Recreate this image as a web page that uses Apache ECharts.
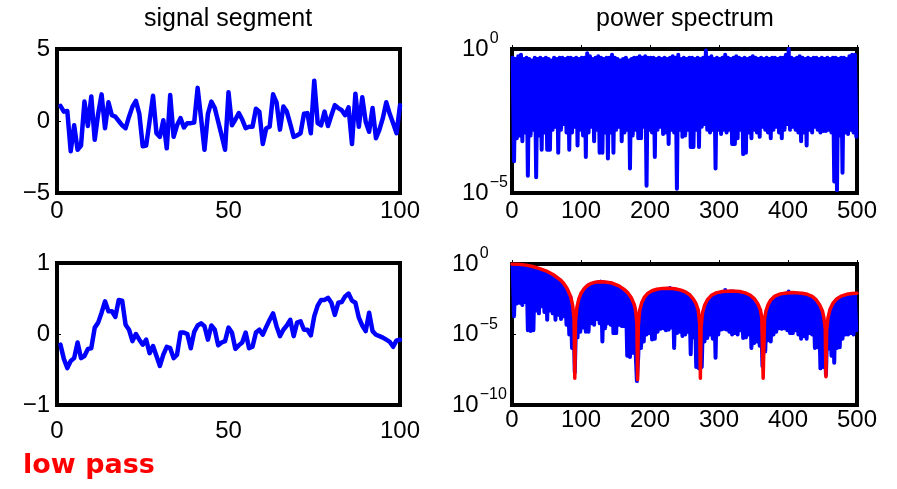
<!DOCTYPE html>
<html>
<head>
<meta charset="utf-8">
<script src="https://cdn.jsdelivr.net/npm/echarts@6/dist/echarts.min.js"></script>
<style>
  html, body { margin: 0; padding: 0; background: #fff; }
  #chart { width: 897px; height: 489px; }
</style>
</head>
<body>
<div id="chart"></div>
<script>
// Raw noise segment, samples 1..100
const signalRaw = [
  1.05, 0.65, 0.7, -2.1, -0.3, -2.0, -1.7, 1.35, -0.35, 1.7,
  -1.3, 0.5, 1.85, -0.5, 1.3, 0.4, 0.3, 0.0, -0.3, -0.5,
  0.3, 1.0, 1.4, 0.5, -1.75, -1.7, 0.0, 1.75, -0.85, -1.1,
  0.05, -1.9, 1.8, -1.1, -0.3, 0.2, -0.45, -0.15, -0.15, -0.1,
  2.3, 0.2, -2.0, 0.5, 1.35, 0.9, -0.05, -1.0, -2.0, 2.0,
  -0.3, 0.1, 0.55, 0.1, -0.5, -0.4, -0.4, 0.85, 0.65, -1.6,
  -0.5, -0.4, 1.85, 1.3, -0.6, 1.0, 0.65, -0.2, -1.1, -1.0,
  -0.85, 0.5, 0.55, -0.85, 2.8, -0.15, -0.3, 0.65, -0.35, 0.4,
  1.1, 0.9, 0.75, 0.4, 0.95, -1.6, 1.9, -0.4, 1.65, -0.05,
  -0.75, 0.9, -1.2, -0.6, 0.2, 1.3, 0.5, -0.15, -0.85, 1.1
];

// Same segment after the low-pass filter
const signalLowPass = [
  -0.15, -0.35, -0.48, -0.38, -0.34, -0.12, -0.34, -0.31, -0.21, -0.2,
  0.09, 0.16, 0.3, 0.46, 0.32, 0.32, 0.24, 0.48, 0.47, 0.13,
  0.06, -0.1, 0.0, -0.08, -0.15, -0.08, -0.27, -0.17, -0.31, -0.45,
  -0.29, -0.18, -0.2, -0.34, -0.29, 0.02, 0.02, 0.0, -0.2, 0.03,
  0.12, 0.15, 0.11, -0.08, 0.12, 0.06, -0.16, -0.12, -0.1, 0.09,
  0.02, -0.21, -0.16, -0.12, 0.02, -0.2, -0.18, 0.02, 0.06, -0.01,
  0.1, 0.2, 0.29, 0.11, -0.03, 0.06, 0.12, 0.2, -0.03, 0.16,
  0.18, 0.06, 0.06, -0.02, 0.25, 0.4, 0.48, 0.48, 0.51, 0.44,
  0.27, 0.44, 0.45, 0.53, 0.57, 0.47, 0.44, 0.23, 0.12, 0.04,
  0.3, 0.04, -0.01, -0.03, -0.05, -0.08, -0.11, -0.18, -0.09, -0.08
];

// Power spectra, stored as log10(power), one value per frequency bin
// bins run from binStart in steps of binStep
const binStart = 1;
const binStep = 2;

const spectrumRawLog = [
  -0.3,-3.9,-0.35,-3.1,-0.25,-3.0,-0.2,-3.2,-0.35,-2.9,-0.3,-4.4,-0.35,-3.0,-0.4,-2.8,-0.3,-4.45,-0.35,-3.0,
  -0.3,-3.5,-0.35,-2.9,-0.3,-3.5,-0.35,-3.5,-0.4,-2.8,-0.3,-2.7,-0.35,-3.6,-0.3,-2.8,-0.3,-2.6,-0.35,-2.9,
  -0.3,-3.5,-0.3,-2.9,-0.35,-2.7,-0.3,-3.35,-0.35,-2.8,-0.3,-3.0,-0.3,-3.75,-0.15,-2.9,-0.25,-2.7,-0.35,-3.2,
  -0.3,-2.8,-0.25,-3.6,-0.3,-3.6,-0.35,-2.9,-0.3,-3.8,-0.3,-2.9,-0.2,-3.6,-0.3,-2.8,-0.35,-2.7,-0.4,-3.2,
  -0.35,-2.9,-0.3,-2.8,-0.4,-4.15,-0.35,-3.0,-0.3,-2.8,-0.3,-3.1,-0.25,-3.1,-0.3,-2.7,-0.25,-4.75,-0.3,-2.8,
  -0.3,-2.9,-0.3,-3.75,-0.35,-2.8,-0.3,-2.7,-0.35,-2.95,-0.3,-2.9,-0.35,-3.3,-0.3,-2.8,-0.25,-2.9,-0.3,-4.85,
  -0.2,-2.8,-0.35,-3.05,-0.3,-3.0,-0.35,-2.8,-0.3,-3.4,-0.3,-3.4,-0.35,-2.8,-0.3,-3.4,-0.35,-2.7,-0.3,-2.6,
  -0.05,-2.8,-0.3,-2.9,-0.25,-2.8,-0.35,-4.15,-0.3,-2.8,-0.35,-2.95,-0.3,-2.8,-0.2,-2.9,-0.3,-2.8,-0.35,-3.3,
  -0.3,-3.3,-0.25,-3.1,-0.3,-2.8,-0.35,-3.65,-0.3,-3.6,-0.35,-2.9,-0.3,-3.1,-0.25,-2.8,-0.3,-2.9,-0.35,-3.05,
  -0.3,-2.7,-0.35,-2.8,-0.3,-2.9,-0.35,-3.1,-0.3,-2.8,-0.3,-2.7,-0.35,-2.9,-0.3,-3.1,-0.3,-2.8,-0.2,-2.6,
  0.0,-2.8,-0.3,-2.7,-0.35,-2.8,-0.3,-2.9,-0.25,-3.2,-0.3,-2.9,-0.35,-3.35,-0.3,-2.8,-0.35,-2.9,-0.3,-2.7,
  -0.3,-2.8,-0.35,-2.9,-0.3,-2.85,-0.35,-2.85,-0.3,-2.8,-0.35,-2.9,-0.3,-4.6,-0.3,-4.9,-0.35,-3.0,-0.3,-4.3,
  -0.3,-2.9,-0.35,-2.95,-0.25,-2.8,-0.2,-2.9,-0.2,-3.05
];

const spectrumLowLog = [
  -0.05,-3.7,-0.1,-2.8,-0.05,-2.75,-0.1,-2.9,-0.15,-2.7,-0.12,-4.7,-0.2,-4.75,-0.25,-4.7,-0.3,-3.3,-0.35,-3.5,
  -0.4,-3.0,-0.5,-3.4,-0.55,-3.95,-0.65,-3.3,-0.75,-3.5,-0.9,-3.95,-1.0,-3.6,-1.15,-3.9,-1.35,-3.7,-1.6,-4.3,
  -1.95,-5.0,-2.4,-5.95,-3.5,-7.7,-3.7,-5.2,-2.55,-4.8,-2.1,-4.5,-1.8,-4.8,-1.6,-4.8,-1.5,-4.2,-1.4,-4.3,
  -1.35,-3.9,-1.3,-4.2,-1.25,-5.5,-1.3,-4.55,-1.35,-4.2,-1.4,-4.3,-1.4,-4.9,-1.5,-4.9,-1.6,-4.3,-1.7,-4.4,
  -1.85,-4.4,-2.0,-6.5,-2.2,-6.6,-2.5,-6.3,-2.95,-6.0,-8.3,-6.5,-3.4,-5.95,-2.75,-5.5,-2.4,-5.0,-2.15,-4.9,
  -2.05,-5.35,-1.95,-5.3,-1.85,-4.8,-1.85,-4.6,-1.8,-4.55,-1.8,-4.7,-1.75,-4.65,-1.7,-4.5,-1.8,-5.95,-1.85,-4.9,
  -1.9,-4.8,-1.95,-5.1,-2.0,-5.0,-2.1,-4.8,-2.25,-6.4,-2.45,-5.2,-2.75,-7.3,-3.25,-7.4,-7.3,-7.3,-3.4,-5.5,
  -2.85,-5.25,-2.55,-5.0,-2.3,-5.3,-2.2,-6.65,-2.1,-5.0,-2.05,-4.65,-2.0,-4.6,-1.85,-4.65,-2.0,-4.8,-1.95,-5.0,
  -1.95,-4.9,-2.0,-5.0,-2.0,-4.7,-2.05,-5.25,-2.1,-5.2,-2.2,-5.0,-2.3,-5.95,-2.45,-5.6,-2.7,-5.5,-3.0,-5.8,
  -3.6,-7.25,-4.0,-6.2,-3.3,-5.4,-2.8,-5.5,-2.55,-5.0,-2.35,-4.8,-2.25,-4.55,-2.2,-4.6,-2.15,-4.55,-2.1,-4.7,
  -1.95,-4.9,-2.1,-4.9,-2.1,-4.7,-2.1,-5.0,-2.15,-5.3,-2.15,-5.1,-2.2,-5.3,-2.25,-4.9,-2.35,-5.0,-2.45,-5.95,
  -2.65,-5.9,-2.9,-7.4,-3.35,-7.3,-4.4,-7.85,-4.4,-6.0,-3.3,-6.5,-2.9,-7.0,-2.65,-5.95,-2.45,-5.9,-2.35,-5.3,
  -2.3,-5.0,-2.25,-5.0,-2.2,-4.9,-2.15,-5.0,-2.15,-4.7
];

// Filter response |H|^2 (log10), sampled at the listed frequencies
const responseFreq = [
  0,10,20,30,40,50,60,70,75,80, 85,88,90,91,92,94,97,100,105,110,
  115,120,127,135,145,155,162,168,173,177, 179,181,182,183,185,188,192,197,203,210,
  218,227,236,245,252,258,263,267,270,272, 273,274,276,279,283,289,296,305,318,330,
  338,345,351,356,360,362,364,366,368,371, 375,381,389,398,409,420,428,435,441,446,
  450,452,454,455,456,458,461,465,470,477, 485,493,500
];
const responseLog = [
  0,-0.02,-0.08,-0.18,-0.33,-0.5,-0.76,-1.12,-1.38,-1.75, -2.3,-2.95,-4.0,-8.1,-4.1,-3.1,-2.45,-2.08,-1.72,-1.5,
  -1.37,-1.3,-1.26,-1.27,-1.35,-1.55,-1.78,-2.05,-2.4,-2.85, -3.25,-4.2,-8.2,-4.4,-3.3,-2.75,-2.35,-2.07,-1.9,-1.79,
  -1.73,-1.72,-1.75,-1.85,-2.0,-2.2,-2.5,-2.85,-3.3,-4.2, -8.1,-4.5,-3.5,-2.95,-2.55,-2.22,-2.05,-1.95,-1.91,-1.95,
  -2.05,-2.2,-2.45,-2.8,-3.25,-3.8,-8.1,-3.9,-3.35,-2.9, -2.55,-2.28,-2.12,-2.05,-2.03,-2.07,-2.15,-2.3,-2.55,-2.9,
  -3.35,-3.8,-4.6,-8.0,-4.7,-3.8,-3.2,-2.8,-2.5,-2.28, -2.15,-2.09,-2.07
];

const titles = ['signal segment', 'power spectrum'];
const caption = 'low pass';

const BLUE = '#0000ff';
const RED = '#ff0000';
const FONT = '"Liberation Sans", Arial, Helvetica, sans-serif';

const minus = v => (v < 0 ? '\u2212' + (-v) : String(v));
const powerLabel = v => '{b|10}{s|' + minus(v) + '}';

const grids = [
  { left: 57, top: 49, width: 343, height: 144 },
  { left: 512, top: 49, width: 345, height: 144 },
  { left: 57, top: 263, width: 343, height: 142 },
  { left: 512, top: 264, width: 345, height: 141 }
].map(g => Object.assign(g, { show: true, borderColor: '#000', borderWidth: 4, backgroundColor: '#fff' }));

function xAxis(gridIndex, max, interval, margin) {
  return {
    type: 'value', gridIndex, min: 0, max, interval,
    axisLine: { show: false },
    axisTick: { show: true, inside: true, length: 4, lineStyle: { color: '#000', width: 1 } },
    splitLine: { show: false },
    axisLabel: { color: '#000', fontSize: 24, fontFamily: FONT, margin, formatter: minus }
  };
}
function yLinear(gridIndex, min, max, interval) {
  return {
    type: 'value', gridIndex, min, max, interval,
    axisLine: { show: false },
    axisTick: { show: true, inside: true, length: 4, lineStyle: { color: '#000', width: 1 } },
    splitLine: { show: false },
    axisLabel: { color: '#000', fontSize: 24, fontFamily: FONT, margin: 7, formatter: minus }
  };
}
function yDecades(gridIndex, min, margin) {
  return {
    type: 'value', gridIndex, min, max: 0, interval: 5,
    axisLine: { show: false },
    axisTick: { show: true, inside: true, length: 4, lineStyle: { color: '#000', width: 1 } },
    splitLine: { show: false },
    axisLabel: {
      color: '#000', fontFamily: FONT, margin, align: 'left', formatter: powerLabel,
      rich: {
        b: { fontSize: 24, fontFamily: FONT, color: '#000', lineHeight: 24 },
        s: { fontSize: 16, fontFamily: FONT, color: '#000', lineHeight: 16, padding: [0, 0, 20, 1] }
      }
    }
  };
}

const lineSeries = (xi, data, color, width) => ({
  type: 'line', xAxisIndex: xi, yAxisIndex: xi, data,
  showSymbol: false, symbol: 'none', silent: true,
  lineStyle: { color, width, join: 'round', cap: 'round' },
  itemStyle: { color }
});

const option = {
  backgroundColor: '#fff',
  animation: false,
  title: [
    { text: titles[0], left: 228, top: 7, textAlign: 'center', padding: 0,
      textStyle: { fontSize: 25, fontWeight: 'normal', color: '#000', fontFamily: FONT } },
    { text: titles[1], left: 685, top: 7, textAlign: 'center', padding: 0,
      textStyle: { fontSize: 25, fontWeight: 'normal', color: '#000', fontFamily: FONT } }
  ],
  grid: grids,
  xAxis: [
    xAxis(0, 100, 50, 6),
    xAxis(1, 500, 100, 6),
    xAxis(2, 100, 50, 14),
    xAxis(3, 500, 100, 3)
  ],
  yAxis: [
    yLinear(0, -5, 5, 5),
    yDecades(1, -5, 50),
    yLinear(2, -1, 1, 1),
    yDecades(3, -10, 60)
  ],
  series: [
    lineSeries(0, signalRaw.map((v, i) => [i + 1, v]), BLUE, 4.5),
    lineSeries(1, spectrumRawLog.map((v, i) => [binStart + binStep * i, v]), BLUE, 4),
    lineSeries(2, signalLowPass.map((v, i) => [i + 1, v]), BLUE, 4.5),
    lineSeries(3, spectrumLowLog.map((v, i) => [binStart + binStep * i, v]), BLUE, 4),
    lineSeries(3, responseFreq.map((f, i) => [f, responseLog[i]]), RED, 3.5)
  ],
  graphic: [
    { type: 'text', left: 23, top: 452,
      style: { text: caption, fill: RED, font: 'bold 27px "DejaVu Sans", sans-serif' } }
  ]
};

const chart = echarts.init(document.getElementById('chart'), null, { renderer: 'canvas' });
chart.setOption(option);
</script>
</body>
</html>
